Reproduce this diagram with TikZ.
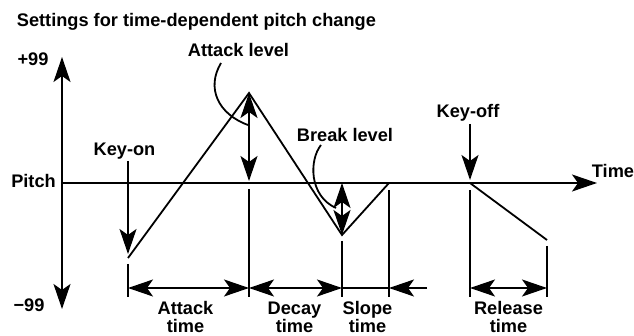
\documentclass[tikz,border=0pt]{standalone}
\usepackage{fontspec}
\setmainfont{Liberation Sans}[BoldFont={Liberation Sans Bold}]
\usepackage{tikz}
\usetikzlibrary{arrows.meta}

\begin{document}
\begin{tikzpicture}[
        x=1pt, y=-1pt,
        line width=1.8pt,
        >={Stealth[length=25pt, width=17pt, inset=6pt]},
        lbl/.style={font=\fontsize{18.2}{18}\selectfont\bfseries, inner sep=0pt, anchor=base},
        twoline/.style={lbl, align=center}
    ]
        \useasboundingbox (0,0) rectangle (634,336);

        % Titolo
        \node[lbl, anchor=base west] (title) at (16,27) {Settings for time-dependent pitch change};

        % Assi
        \coordinate (ytop) at (62,57);
        \coordinate (ybot) at (62,309);
        \coordinate (orig) at (62,183);
        \coordinate (xend) at (597,183);
        \draw[<->] (ybot) -- (ytop);
        \draw[->] (orig) -- (xend);
        \node[lbl] (plus) at (33,66) {+99};
        \node[lbl] (pitch) at (33.5,188) {Pitch};
        \node[lbl] (minus) at (29,312) {−99};
        \node[lbl] (time) at (613,178) {Time};

        % Inviluppo
        \coordinate (kon) at (128,258);
        \coordinate (peak) at (249,93);
        \coordinate (brk) at (342,235);
        \coordinate (slp) at (389,183);
        \coordinate (koff) at (470,183);
        \coordinate (rel) at (547,240);
        \draw[line join=miter] (kon) -- (peak) -- (brk) -- (slp) -- (koff) -- (rel);

        % Livelli
        \coordinate (peakbase) at (249,181);
        \coordinate (brktop) at (342,183);
        \draw[<->] (peak) -- (peakbase);
        \draw[<->] (brktop) -- (brk);

        % Key-on / Key-off
        \node[lbl] (keyon) at (124.5,156) {Key-on};
        \node[lbl] (keyoff) at (468,118) {Key-off};
        \coordinate (konfrom) at (128,161);
        \coordinate (kontip) at (128,254);
        \coordinate (kofffrom) at (470,124);
        \coordinate (kofftip) at (470,180);
        \draw[->] (konfrom) -- (kontip);
        \draw[->] (kofffrom) -- (kofftip);

        % Etichette dei livelli
        \node[lbl] (atklvl) at (238.5,57) {Attack level};
        \node[lbl] (brklvl) at (345,142) {Break level};
        \coordinate (atkcurve) at (221,63);
        \coordinate (atkend) at (248,125);
        \coordinate (brkcurve) at (321,145);
        \coordinate (brkend) at (336,208);
        \draw (atkcurve) .. controls (206,88) and (218,114) .. (atkend);
        \draw (brkcurve) .. controls (309,160) and (309,196) .. (brkend);

        % Tacche
        \draw (128,264) -- (128,297);
        \draw (249,189) -- (249,297);
        \draw (342,241) -- (342,297);
        \draw (389,190) -- (389,297);
        \draw (470,190) -- (470,297);
        \draw (547,246) -- (547,297);

        % Tempi
        \coordinate (d1) at (128,288);
        \coordinate (d2) at (249,288);
        \coordinate (d3) at (342,288);
        \coordinate (d4) at (389,288);
        \coordinate (d5) at (427,288);
        \coordinate (d6) at (470,288);
        \coordinate (d7) at (547,288);
        \draw[<->] (d1) -- (d2);
        \draw[<->] (d2) -- (d3);
        \draw (d3) -- (d4);
        \draw[->] (d5) -- (d4);
        \draw[<->] (d6) -- (d7);

        \node[twoline] (atkt) at (185.5,333) {Attack\\time};
        \node[twoline] (dect) at (294.5,333) {Decay\\time};
        \node[twoline] (slpt) at (367.5,333) {Slope\\time};
        \node[twoline] (relt) at (508.5,333) {Release\\time};
    \end{tikzpicture}
\end{document}
